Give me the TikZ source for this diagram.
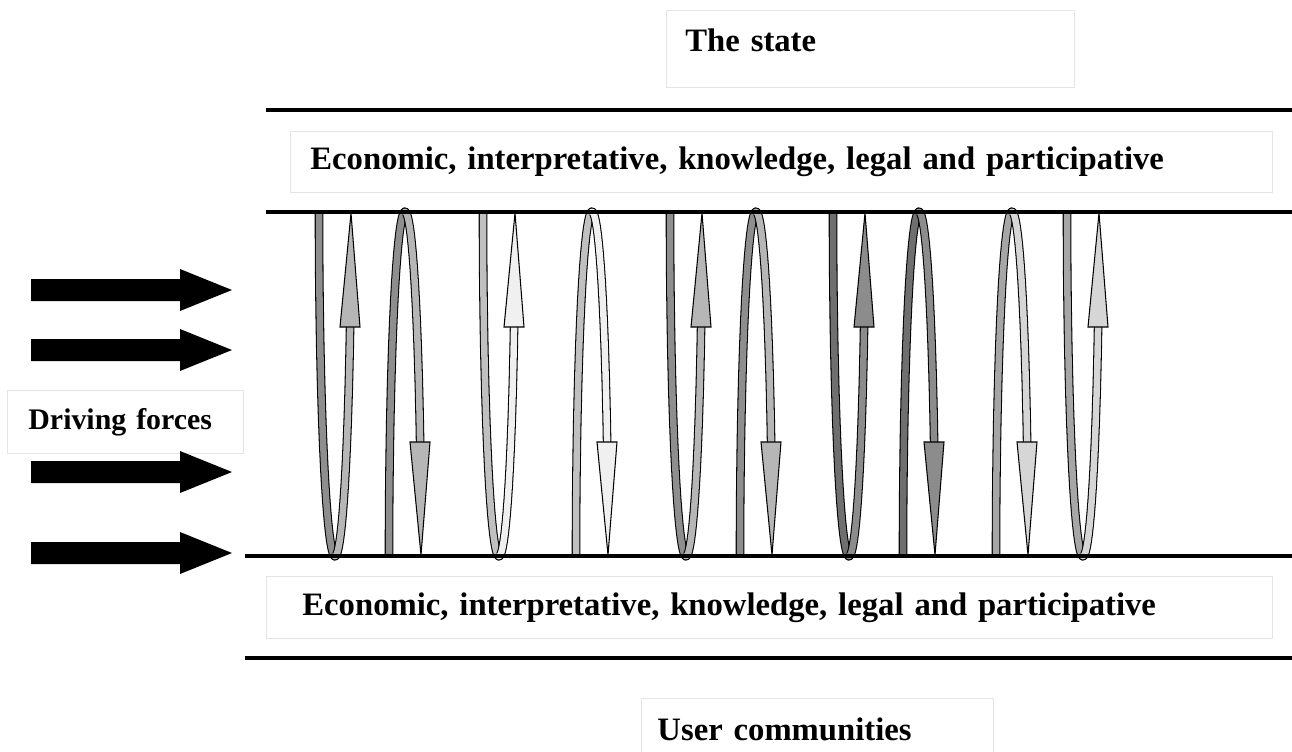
\documentclass[tikz,border=0pt]{standalone}
\usepackage{fontspec}
\setmainfont{Liberation Serif}

\definecolor{dkA}{HTML}{8E8E8E}
\definecolor{ltA}{HTML}{B6B6B6}
\definecolor{dkB}{HTML}{C0C0C0}
\definecolor{ltB}{HTML}{F0F0F0}
\definecolor{dkC}{HTML}{6F6F6F}
\definecolor{ltC}{HTML}{8C8C8C}
\definecolor{dkD}{HTML}{A6A6A6}
\definecolor{ltD}{HTML}{D6D6D6}

\begin{document}
\begin{tikzpicture}[
		x=0.02cm, y=-0.02cm,
		box/.style={draw=black!10, line width=0.5pt, anchor=north west, inner ysep=0pt, align=left, font=\bfseries\fontsize{18.6}{22}\selectfont},
		band/.style={draw=black, line width=0.6pt, double=#1, double distance=0.13cm},
		head/.style={draw=black, line width=0.6pt, fill=#1, line join=miter},
		rule/.style={line width=0.08cm},
	]
		\useasboundingbox (0,0) rectangle (1292,751);

		\node[box, minimum width=8.16cm, minimum height=1.54cm, inner xsep=0.38cm, text width=7.4cm, text depth=0.35cm] (state) at (666,10) {The state};
		\node[box, minimum width=19.64cm, minimum height=1.22cm, inner xsep=0.4cm, text width=18.84cm] (upper) at (290,131) {Economic, interpretative, knowledge, legal and participative};
		\node[box, minimum width=20.12cm, minimum height=1.24cm, inner xsep=0.72cm, text width=18.68cm] (lower) at (266,576) {Economic, interpretative, knowledge, legal and participative};
		\node[box, font=\bfseries\fontsize{17}{20}\selectfont, minimum width=4.72cm, minimum height=1.26cm, inner xsep=0.42cm, text width=3.88cm] (driving) at (7,390) {Driving forces};
		\node[box, minimum width=7.04cm, minimum height=1.24cm, inner xsep=0.32cm, text width=6.4cm] (users) at (641,698) {User communities};

		% driving force arrows
		\foreach \y in {290,350,472,553}
			\fill (31,\y-11) -- (180,\y-11) -- (180,\y-21) -- (232,\y) -- (180,\y+21) -- (180,\y+11) -- (31,\y+11) -- cycle;

		% loops between the two layers
		\foreach \u/\n/\g in {335/405/A,499/592/B,686/756/A,849/919/C,1083/1012/D}{
			\draw[band=dk\g] plot[domain=180:86, samples=40] ({\u+16*cos(\x)},{212+344*sin(\x)});
			\draw[band=lt\g] plot[domain=94:19.5, samples=40] ({\u+16*cos(\x)},{212+344*sin(\x)});
			\filldraw[head=lt\g] (\u+5,327) -- (\u+25,327) -- (\u+16,213) -- cycle;
			\draw[band=dk\g] plot[domain=180:86, samples=40] ({\n+16*cos(\x)},{556-344*sin(\x)});
			\draw[band=lt\g] plot[domain=94:19.3, samples=40] ({\n+16*cos(\x)},{556-344*sin(\x)});
			\filldraw[head=lt\g] (\n+5,442) -- (\n+25,442) -- (\n+16,555) -- cycle;
		}

		\draw[rule] (266,110) -- (1292,110);
		\draw[rule] (266,212) -- (1292,212);
		\draw[rule] (245,556) -- (1292,556);
		\draw[rule] (245,658) -- (1292,658);
	\end{tikzpicture}
\end{document}
